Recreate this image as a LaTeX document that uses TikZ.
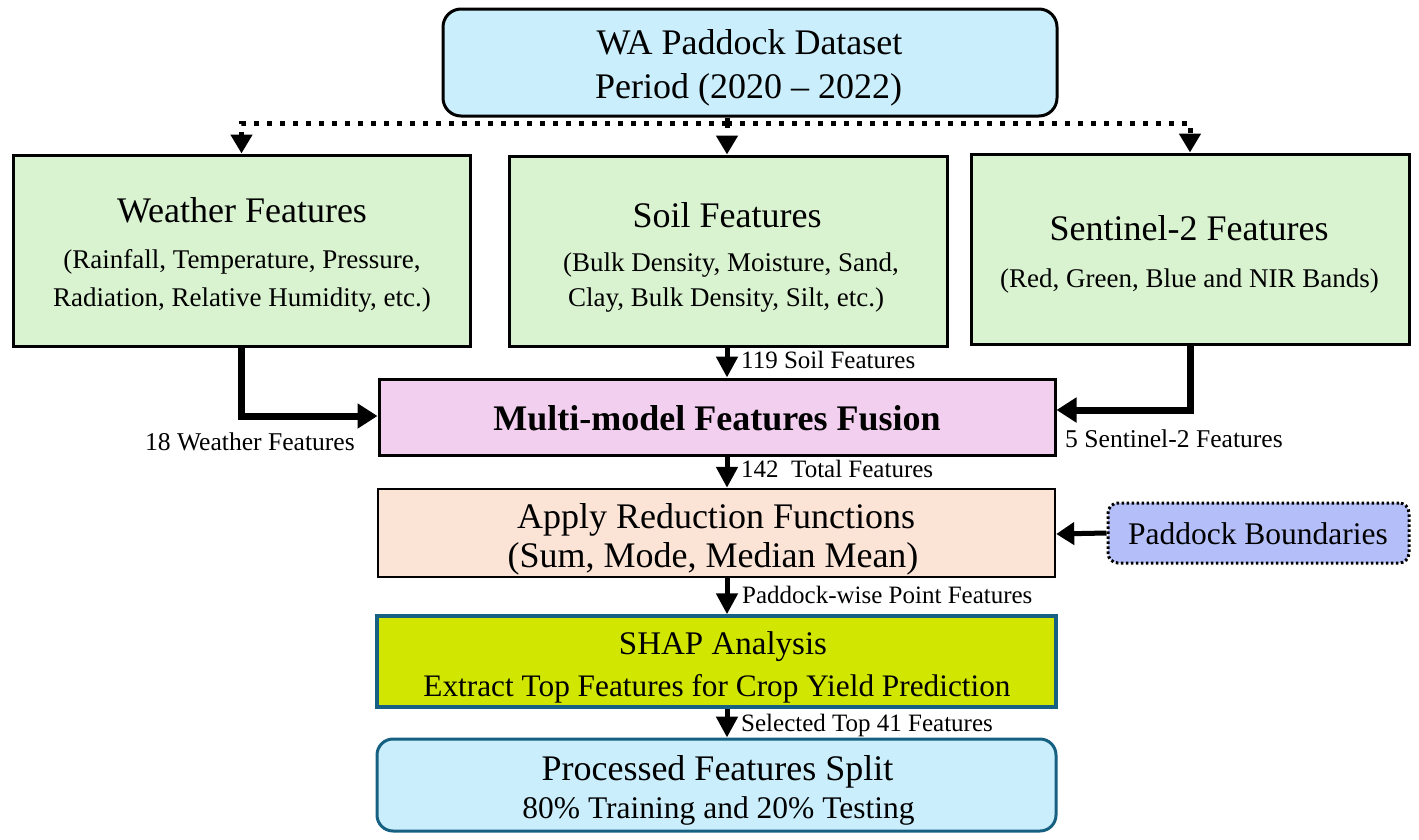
\documentclass[tikz,border=0pt]{standalone}
\usepackage{fontspec}
\setmainfont{Liberation Serif}
\usetikzlibrary{arrows.meta}
\definecolor{cblue}{RGB}{202,238,251}
\definecolor{cgreen}{RGB}{217,242,208}
\definecolor{cpink}{RGB}{242,206,239}
\definecolor{cpeach}{RGB}{251,227,214}
\definecolor{cperi}{RGB}{180,190,248}
\definecolor{cyel}{RGB}{209,230,0}
\definecolor{cteal}{RGB}{22,96,130}
\newcommand\fsz[1]{\fontsize{#1pt}{#1pt}\selectfont}
\begin{document}
\begin{tikzpicture}[x=1pt,y=-1pt,
  boxbase/.style={draw=black, line width=3pt, inner sep=0pt},
  txt/.style={anchor=base, inner sep=0pt},
  hd/.style={txt, font=\fsz{36}},
  sub/.style={txt, font=\fsz{27}},
  lbl/.style={inner sep=0pt, font=\fsz{25}},
  thickarr/.style={line width=7pt, -{Triangle[length=20pt,width=24pt]}},
  vertarr/.style={line width=5pt, -{Triangle[length=21pt,width=21pt]}},
  sidearr/.style={line width=5pt, -{Triangle[length=18pt,width=22pt]}},
  dotline/.style={line width=5pt, dash pattern=on 5pt off 8pt},
  dotarr/.style={dotline, -{Triangle[length=19pt,width=21pt]}}]
\useasboundingbox (0,0) rectangle (1419,839);
% boxes
\node[boxbase, fill=cblue, rounded corners=18pt, minimum width=614pt, minimum height=107pt] (top) at (750,62.5) {};
\node[boxbase, fill=cgreen, minimum width=457pt, minimum height=191pt] (weather) at (241.5,250.5) {};
\node[boxbase, fill=cgreen, minimum width=438pt, minimum height=190pt] (soil) at (728,251) {};
\node[boxbase, fill=cgreen, minimum width=438pt, minimum height=190pt] (sentinel) at (1190,249) {};
\node[boxbase, fill=cpink, minimum width=676pt, minimum height=76pt] (fusion) at (717,417) {};
\node[boxbase, line width=2.5pt, fill=cpeach, minimum width=677pt, minimum height=88pt] (red) at (716.5,533) {};
\node[boxbase, line width=3pt, dash pattern=on 2.5pt off 2.5pt, fill=cperi, rounded corners=10pt, minimum width=301pt, minimum height=60pt] (padd) at (1258.5,533) {};
\node[boxbase, draw=cteal, line width=3.5pt, fill=cyel, minimum width=679pt, minimum height=91pt] (shap) at (716.5,661.5) {};
\node[boxbase, draw=cteal, line width=3pt, fill=cblue, rounded corners=16pt, minimum width=679pt, minimum height=92pt] (proc) at (716.5,785) {};
% texts
\node[hd] (topA) at (749.5,54) {WA Paddock Dataset};
\node[hd] (topB) at (748.5,98) {Period (2020 -- 2022)};
\node[hd] (wA) at (242,222) {Weather Features};
\node[sub] (wB) at (242,268) {(Rainfall, Temperature, Pressure,};
\node[sub] (wC) at (242,306) {Radiation, Relative Humidity, etc.)};
\node[hd] (sA) at (727,227) {Soil Features};
\node[sub] (sB) at (731,271) {(Bulk Density, Moisture, Sand,};
\node[sub] (sC) at (726,306) {Clay, Bulk Density, Silt, etc.)};
\node[hd] (nA) at (1189,240) {Sentinel-2 Features};
\node[sub] (nB) at (1189.5,287) {(Red, Green, Blue and NIR Bands)};
\node[hd, font=\fsz{36}\bfseries] (fA) at (717,430) {Multi-model Features Fusion};
\node[hd] (rA) at (716,528) {Apply Reduction Functions};
\node[hd] (rB) at (713,567) {(Sum, Mode, Median Mean)};
\node[txt, font=\fsz{31.5}] (pA) at (1258,544) {Paddock Boundaries};
\node[txt, font=\fsz{33}] (hA) at (723,654) {SHAP Analysis};
\node[txt, font=\fsz{31.3}] (hB) at (717,696) {Extract Top Features for Crop Yield Prediction};
\node[hd] (cA) at (717.5,780) {Processed Features Split};
\node[txt, font=\fsz{31.5}] (cB) at (718.5,818) {80\% Training and 20\% Testing};
% dotted connectors
\coordinate (hub) at (727,123);
\draw[dotline] (top.south -| hub) -- (hub);
\draw[dotarr] (hub) -| (weather.north);
\draw[dotarr] (hub) -- (hub |- soil.north);
\draw[dotarr] (hub) -| (sentinel.north);
% solid connectors
\draw[thickarr] (weather.south) |- ([yshift=1pt]fusion.west);
\draw[thickarr] (sentinel.south) |- ([yshift=7pt]fusion.east);
\draw[vertarr] (soil.south -| hub) -- (fusion.north -| hub);
\draw[vertarr] (fusion.south -| hub) -- (red.north -| hub);
\draw[sidearr] (padd.west) -- ([yshift=-1pt]red.east |- padd.west);
\draw[vertarr] (red.south -| hub) -- (shap.north -| hub);
\draw[vertarr] (shap.south -| hub) -- (proc.north -| hub);
% labels
\node[lbl, anchor=base west] (l1) at (741,368) {119 Soil Features};
\node[lbl, anchor=base west] (l2) at (741,477) {142~ Total Features};
\node[lbl, anchor=base west] (l3) at (742,603) {Paddock-wise Point Features};
\node[lbl, anchor=base west] (l4) at (741,731) {Selected Top 41 Features};
\node[lbl, anchor=base east, font=\fsz{25.6}] (l5) at (355,450) {18 Weather Features};
\node[lbl, anchor=base west, font=\fsz{25.6}] (l6) at (1065,447) {5 Sentinel-2 Features};
\end{tikzpicture}
\end{document}
